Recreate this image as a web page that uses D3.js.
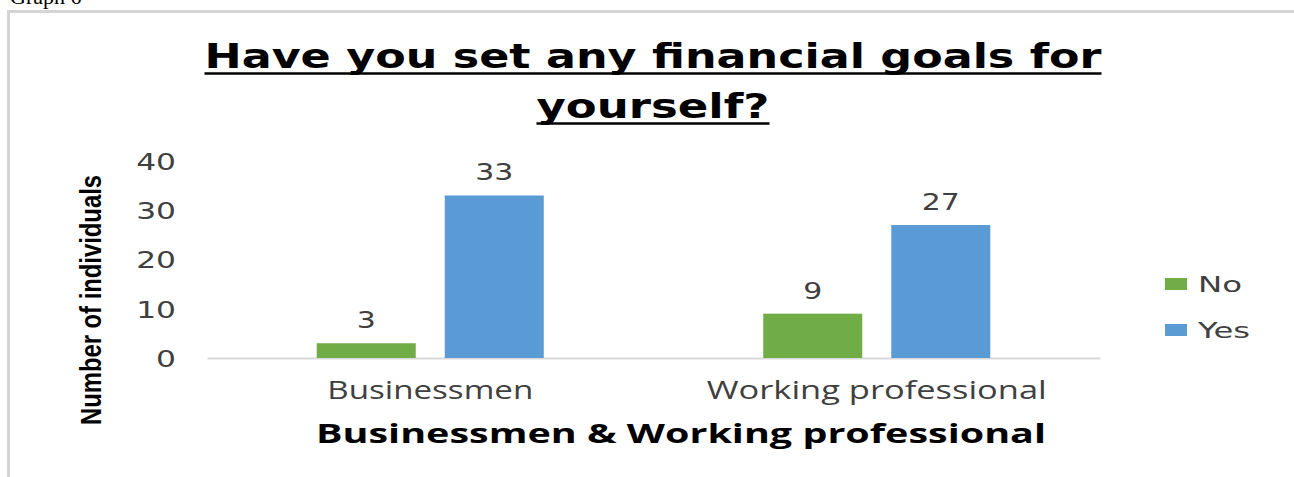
<!DOCTYPE html>
<html>
<head>
<meta charset="utf-8">
<script src="https://cdn.jsdelivr.net/npm/d3@7"></script>
<style>
  html, body { margin: 0; padding: 0; background: #fff; }
  svg { display: block; }
</style>
</head>
<body>
<svg id="chart" width="1294" height="477"></svg>
<script>
// Survey answers per respondent group
const categories = ["Businessmen", "Working professional"];
const seriesNames = ["No", "Yes"];
const noValues = [3, 9];
const yesValues = [33, 27];
const yTicks = [0, 10, 20, 30, 40];

const titleLines = ["Have you set any financial goals for", "yourself?"];
const yAxisTitle = "Number of individuals";
const xAxisTitle = "Businessmen & Working professional";
const captionText = "Graph 6";

const colors = { No: "#70AD47", Yes: "#5B9BD5" };

const svg = d3.select("#chart");
const W = 1294, H = 477;

// plot area
const plot = { left: 207, right: 1100, top: 161, bottom: 358 };

// stretch text horizontally to a given width
function fitWidth(sel, w) {
  sel.attr("textLength", w).attr("lengthAdjust", "spacingAndGlyphs");
}
function stretch(sel, k) {
  sel.each(function () {
    const w = this.getComputedTextLength();
    d3.select(this).attr("textLength", w * k).attr("lengthAdjust", "spacingAndGlyphs");
  });
}

// caption above the frame
const cap = svg.append("text")
  .attr("x", 10).attr("y", 4)
  .attr("font-family", "Liberation Serif, serif")
  .attr("font-size", 22)
  .attr("fill", "#000")
  .text(captionText);

// chart frame
svg.append("rect")
  .attr("x", 8.5).attr("y", 11.5)
  .attr("width", W + 20).attr("height", H + 20)
  .attr("fill", "#fff")
  .attr("stroke", "#d4d4d4")
  .attr("stroke-width", 3);

// title, underlined
const titleY = [68, 118];
const titleW = [897, 233];
titleLines.forEach((line, i) => {
  const t = svg.append("text")
    .attr("x", 653).attr("y", titleY[i])
    .attr("text-anchor", "middle")
    .attr("font-family", "DejaVu Sans, Verdana, sans-serif")
    .attr("font-weight", "bold")
    .attr("font-size", 34)
    .attr("fill", "#000")
    .text(line);
  fitWidth(t, titleW[i]);
  svg.append("line")
    .attr("x1", 653 - titleW[i] / 2).attr("x2", 653 + titleW[i] / 2)
    .attr("y1", titleY[i] + 5.5).attr("y2", titleY[i] + 5.5)
    .attr("stroke", "#000").attr("stroke-width", 2.5);
});

// scales
const x0 = d3.scaleBand().domain(categories).range([plot.left, plot.right]).padding(0);
const x1 = d3.scaleBand().domain(seriesNames).range([0, x0.bandwidth()])
  .paddingInner(0.2266).paddingOuter(0.857);
const y = d3.scaleLinear().domain([0, 40]).range([plot.bottom, plot.top]);

// y axis labels (no axis line)
const yAxis = d3.axisLeft(y).tickValues(yTicks).tickSize(0).tickPadding(0);
const yg = svg.append("g").attr("transform", `translate(176,0)`).call(yAxis);
yg.select(".domain").remove();
yg.selectAll("text")
  .attr("font-family", "DejaVu Sans, Verdana, sans-serif")
  .attr("font-size", 23)
  .attr("fill", "#404040")
  .attr("dy", "0.36em");
stretch(yg.selectAll("text"), 1.36);

// category axis with baseline
const xAxis = d3.axisBottom(x0).tickSize(0).tickPadding(0);
const xg = svg.append("g").attr("transform", `translate(0,${plot.bottom})`).call(xAxis);
xg.select(".domain").attr("stroke", "#d9d9d9").attr("stroke-width", 2);
xg.selectAll("text")
  .attr("font-family", "Open Sans, sans-serif")
  .attr("font-size", 26)
  .attr("fill", "#404040")
  .attr("y", 41)
  .attr("dy", 0);
xg.selectAll("text").each(function (d) {
  fitWidth(d3.select(this), d === "Businessmen" ? 206 : 340);
});

// bars
const rows = categories.map((c, i) => ({ category: c, No: noValues[i], Yes: yesValues[i] }));
const groups = svg.append("g").selectAll("g").data(rows).join("g")
  .attr("transform", d => `translate(${x0(d.category)},0)`);

groups.selectAll("rect")
  .data(d => seriesNames.map(s => ({ key: s, value: d[s] })))
  .join("rect")
  .attr("x", d => x1(d.key))
  .attr("y", d => y(d.value))
  .attr("width", x1.bandwidth())
  .attr("height", d => y(0) - y(d.value))
  .attr("fill", d => colors[d.key]);

// value labels
const vl = groups.selectAll("text.val")
  .data(d => seriesNames.map(s => ({ key: s, value: d[s] })))
  .join("text")
  .attr("class", "val")
  .attr("x", d => x1(d.key) + x1.bandwidth() / 2)
  .attr("y", d => y(d.value) - 15)
  .attr("text-anchor", "middle")
  .attr("font-family", "DejaVu Sans, Verdana, sans-serif")
  .attr("font-size", 23)
  .attr("fill", "#404040")
  .text(d => d.value);
stretch(vl, 1.3);

// axis titles
const yt = svg.append("text")
  .attr("transform", "translate(101,300) rotate(-90)")
  .attr("text-anchor", "middle")
  .attr("font-family", "Liberation Sans Narrow, Arial Narrow, sans-serif")
  .attr("font-weight", "bold")
  .attr("font-size", 29)
  .attr("fill", "#000")
  .text(yAxisTitle);
fitWidth(yt, 250);

const xt = svg.append("text")
  .attr("x", 681).attr("y", 443)
  .attr("text-anchor", "middle")
  .attr("font-family", "Open Sans, sans-serif")
  .attr("font-weight", "bold")
  .attr("font-size", 27)
  .attr("fill", "#000")
  .text(xAxisTitle);
fitWidth(xt, 730);

// legend
const legend = svg.append("g").selectAll("g").data(seriesNames).join("g")
  .attr("transform", (d, i) => `translate(1165,${284 + i * 46})`);
legend.append("rect")
  .attr("x", 0).attr("y", -6)
  .attr("width", 22).attr("height", 12)
  .attr("fill", d => colors[d]);
const lt = legend.append("text")
  .attr("x", 33).attr("y", 0)
  .attr("dy", "0.36em")
  .attr("font-family", "DejaVu Sans, Verdana, sans-serif")
  .attr("font-size", 22)
  .attr("fill", "#404040")
  .text(d => d);
lt.each(function (d) { fitWidth(d3.select(this), d === "No" ? 44 : 52); });
</script>
</body>
</html>
